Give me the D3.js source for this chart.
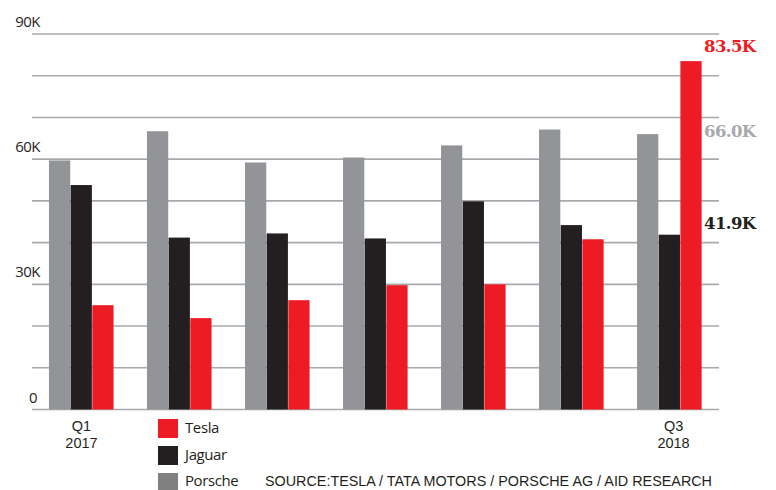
<!DOCTYPE html>
<html>
<head>
<meta charset="utf-8">
<script src="https://cdn.jsdelivr.net/npm/d3@7"></script>
<style>
  body { margin: 0; background: #fff; }
</style>
</head>
<body>
<script>
// quarterly sales, thousands
const quarters = ["Q1 2017", "Q2 2017", "Q3 2017", "Q4 2017", "Q1 2018", "Q2 2018", "Q3 2018"]
const brands = ["Porsche", "Jaguar", "Tesla"]
const porsche = [59.7, 66.7, 59.2, 60.4, 63.3, 67.1, 66.0]
const jaguar = [53.8, 41.2, 42.2, 41.0, 49.9, 44.2, 41.9]
const tesla = [25.0, 21.9, 26.2, 29.8, 30.0, 40.8, 83.5]
const yTicks = [0, 30, 60, 90]
const legendOrder = ["Tesla", "Jaguar", "Porsche"]
const sourceText = "SOURCE:TESLA / TATA MOTORS / PORSCHE AG / AID RESEARCH"

const width = 776, height = 490
const margin = { top: 34, right: 57, left: 32, bottom: 80 }
const colors = { Porsche: "#929497", Jaguar: "#231f20", Tesla: "#ed1c24" }
const series = { Porsche: porsche, Jaguar: jaguar, Tesla: tesla }

const data = quarters.map((q, i) => ({ q, values: brands.map(b => ({ brand: b, value: series[b][i] })) }))

const svg = d3.select("body").append("svg")
    .attr("width", width)
    .attr("height", height)
    .attr("viewBox", [0, 0, width, height])

const x0 = d3.scaleBand()
    .domain(quarters)
    .range([margin.left, width - margin.right])
    .paddingInner(0.337)
    .paddingOuter(0.173)

const x1 = d3.scaleBand()
    .domain(brands)
    .range([0, x0.bandwidth()])

const y = d3.scaleLinear()
    .domain([0, 90])
    .range([height - margin.bottom - 0.5, margin.top])

// gridlines every 10K
svg.append("g")
    .attr("stroke", "#a7a9ac")
    .attr("stroke-width", 1.6)
  .selectAll("line")
  .data(d3.range(0, 91, 10))
  .join("line")
    .attr("x1", margin.left)
    .attr("x2", width - margin.right)
    .attr("y1", d => y(d))
    .attr("y2", d => y(d))

// y labels
svg.append("g")
    .attr("font-family", "Open Sans, sans-serif")
    .attr("font-size", 15)
    .attr("fill", "#231f20")
  .selectAll("text")
  .data(yTicks)
  .join("text")
    .attr("x", d => d == 0 ? 37 : 40)
    .attr("y", d => y(d) - 7)
    .attr("text-anchor", "end")
    .attr("letter-spacing", -0.5)
    .text(d => d == 0 ? "0" : d + "K")

// bars
svg.append("g")
  .selectAll("g")
  .data(data)
  .join("g")
    .attr("transform", d => `translate(${x0(d.q)},0)`)
  .selectAll("rect")
  .data(d => d.values)
  .join("rect")
    .attr("x", d => x1(d.brand))
    .attr("y", d => y(d.value))
    .attr("width", x1.bandwidth() - 0.4)
    .attr("height", d => y(0) - y(d.value))
    .attr("fill", d => colors[d.brand])

// x labels, first and last quarter only (two lines each)
const labelled = [quarters[0], quarters[quarters.length - 1]]
const lx = d => x0(d) + x0.bandwidth() / 2 + (d == labelled[1] ? 4 : 0)
const xg = svg.append("g")
    .attr("font-family", "Liberation Sans, Arial, sans-serif")
    .attr("font-size", 14.5)
    .attr("fill", "#231f20")
    .attr("text-anchor", "middle")
xg.selectAll(".q")
  .data(labelled)
  .join("text")
    .attr("class", "q")
    .attr("x", lx)
    .attr("y", 431)
    .text(d => d.split(" ")[0])
xg.selectAll(".yr")
  .data(labelled)
  .join("text")
    .attr("class", "yr")
    .attr("x", lx)
    .attr("y", 447.5)
    .text(d => d.split(" ")[1])

// value labels for last quarter
const last = data[data.length - 1]
const labelY = { Tesla: 52, Porsche: 137, Jaguar: 229 }
const labelColor = { Tesla: "#ed1c24", Porsche: "#a7a9ac", Jaguar: "#231f20" }
svg.append("g")
    .attr("font-family", "DejaVu Serif, serif")
    .attr("font-weight", "bold")
    .attr("font-size", 16.5)
  .selectAll("text")
  .data(last.values)
  .join("text")
    .attr("x", 704)
    .attr("y", d => labelY[d.brand])
    .attr("fill", d => labelColor[d.brand])
    .attr("letter-spacing", -0.6)
    .text(d => d.value.toFixed(1) + "K")

// legend
const legend = svg.append("g")
    .attr("font-family", "Open Sans, sans-serif")
    .attr("font-size", 15)
    .attr("fill", "#231f20")
  .selectAll("g")
  .data(legendOrder)
  .join("g")
    .attr("transform", (d, i) => `translate(158,${419 + i * 27})`)
legend.append("rect")
    .attr("width", 20)
    .attr("height", 19)
    .attr("fill", d => d == "Porsche" ? "#808080" : colors[d])
legend.append("text")
    .attr("x", 27)
    .attr("y", (d, i) => i == 2 ? 13 : 14)
    .attr("letter-spacing", -0.4)
    .text(d => d)

svg.append("text")
    .attr("x", 265)
    .attr("y", 486)
    .attr("font-family", "Liberation Sans Narrow, sans-serif")
    .attr("font-size", 15)
    .attr("fill", "#231f20")
    .attr("textLength", 447)
    .attr("lengthAdjust", "spacingAndGlyphs")
    .text(sourceText)
</script>
</body>
</html>
